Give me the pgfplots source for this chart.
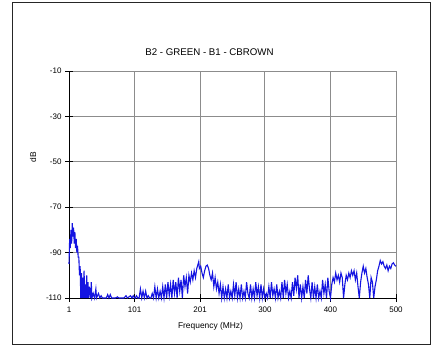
\documentclass[border=0pt]{standalone}
\usepackage{pgfplots}
\pgfplotsset{compat=1.18}
\usepackage{fontspec}
\setmainfont{Liberation Sans}
\definecolor{trace}{RGB}{20,20,225}
\definecolor{gridgray}{RGB}{140,140,140}
\begin{document}
\begin{tikzpicture}[x=1pt,y=1pt]
\useasboundingbox (0,0) rectangle (437,346);
\draw[line width=0.9pt, black!85] (12,1.5) rectangle (430,344);
\begin{axis}[
  at={(69pt,48pt)}, anchor=south west,
  scale only axis, width=327pt, height=227pt,
  xmin=1, xmax=500, ymin=-110, ymax=-10,
  xtick={1,101,201,300,400,500},
  xticklabels={1,101,201,300,400,500},
  ytick={-110,-90,-70,-50,-30,-10},
  yticklabels={-110,-90,-70,-50,-30,-10},
  axis lines=left,
  axis line style={-, black, line width=1pt},
  grid=major,
  major grid style={gridgray, line width=0.9pt},
  tick align=center, major tick length=8pt,
  tick style={black, line width=0.8pt},
  tick label style={font=\fontsize{8}{9}\selectfont},
  xticklabel style={yshift=-1pt},
  clip=false,
]
\addplot[trace, line width=1.1pt] coordinates {
(1,-95) (2,-84) (3,-88) (4,-80) (5,-86) (6,-77) (7,-83) (8,-79) (9,-86) (10,-81)
(11,-88) (12,-84) (13,-90) (14,-87) (15,-92) (16,-92) (17,-100) (18,-96) (19,-110) (20,-99)
(21,-110) (22,-101) (23,-110) (24,-98) (25,-110) (26,-104) (27,-110) (28,-100) (29,-110) (30,-103)
(31,-110) (32,-105) (34,-110) (35,-103) (36,-110) (38,-108) (40,-110) (42,-106) (43,-110) (46,-108)
(48,-110) (50,-109) (52,-110) (58,-110) (60,-108.5) (62,-110) (64,-108.5) (66,-110) (72,-110) (75,-109.5)
(77,-110) (85,-110) (88,-109) (90,-110) (95,-109) (97,-110) (99,-109) (101,-110)
(102,-110) (104,-109) (106,-110) (108,-110) (110,-106) (112,-110) (114,-107) (116,-110) (118,-107) (120,-110)
(122,-109) (124,-110) (126,-110) (128,-108) (130,-110) (132,-105) (134,-110) (136,-106) (138,-110) (140,-107)
(142,-110) (144,-105) (146,-110) (148,-104) (150,-110) (152,-103) (154,-109) (156,-104) (158,-110) (160,-102)
(162,-108) (164,-103) (166,-110) (168,-101) (170,-107) (172,-102) (174,-110) (176,-100) (178,-105) (180,-101)
(182,-108) (184,-100) (186,-103) (188,-99) (190,-102) (192,-98) (194,-101) (196,-97) (198,-95) (199,-94)
(200,-97) (202,-96) (204,-99) (206,-101) (208,-98) (210,-96) (212,-95.5) (214,-97) (216,-100) (218,-102)
(220,-99) (222,-105) (224,-101) (226,-106) (228,-103) (230,-108) (232,-104) (234,-110) (236,-105) (238,-110)
(240,-106) (242,-110) (244,-104) (246,-110) (248,-107) (250,-110) (252,-104) (254,-109) (256,-103) (258,-110)
(260,-106) (262,-110) (264,-104) (266,-110) (268,-107) (270,-110) (272,-103) (274,-108) (276,-110) (278,-104)
(280,-110) (282,-106) (284,-110) (286,-103) (288,-109) (290,-105) (292,-110) (294,-104) (296,-110) (298,-106)
(300,-110) (302,-108) (304,-110) (306,-105) (308,-110) (310,-103) (312,-109) (314,-106) (316,-110) (318,-104)
(320,-110) (322,-107) (324,-110) (326,-103) (328,-110) (330,-102) (332,-108) (334,-104) (336,-110) (338,-107)
(340,-110) (342,-103) (344,-109) (346,-101) (348,-106) (350,-100) (352,-110) (354,-104) (356,-110) (358,-105)
(360,-110) (362,-102) (364,-108) (366,-100) (368,-106) (370,-110) (372,-103) (374,-110) (376,-105) (378,-110)
(380,-104) (382,-110) (384,-107) (386,-110) (388,-102) (390,-108) (392,-104) (394,-110) (396,-101) (398,-107)
(400,-110) (402,-104) (404,-101) (406,-103) (408,-99) (410,-102) (412,-100) (414,-103) (416,-99) (418,-101)
(420,-110) (422,-104) (424,-100) (426,-102) (428,-99) (430,-101) (432,-98) (434,-100) (436,-98) (438,-102)
(440,-99) (442,-105) (444,-110) (446,-103) (448,-99) (450,-96) (452,-99) (454,-97) (456,-101) (458,-104)
(460,-110) (462,-101) (464,-103) (466,-110) (468,-105) (470,-102) (472,-98) (474,-96) (476,-93.5) (478,-95)
(480,-94) (482,-96) (484,-97) (486,-95.5) (488,-98) (490,-96) (492,-97) (494,-95) (496,-94.5) (498,-95.5) (500,-96)
};
\end{axis}
\node[font=\fontsize{9.7}{11}\selectfont] at (209.5,294) {B2 - GREEN - B1 - CBROWN};
\node[font=\fontsize{8.4}{10}\selectfont] at (210.5,20) {Frequency (MHz)};
\node[font=\fontsize{8.4}{10}\selectfont, rotate=90] at (33,189) {dB};
\end{tikzpicture}
\end{document}
